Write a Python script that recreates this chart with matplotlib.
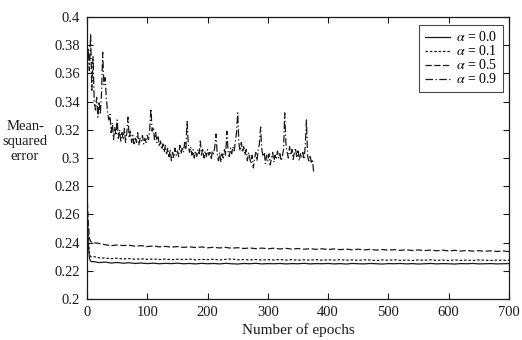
import matplotlib
matplotlib.use("Agg")
import matplotlib.pyplot as plt
import numpy as np

plt.rcParams['font.family'] = ['Liberation Serif', 'DejaVu Serif']
plt.rcParams['mathtext.fontset'] = 'stix'

# epochs shared by the three long runs
ep_long = [0, 2, 4, 6, 8] + list(range(10, 701, 10))

a00 = [0.262, 0.240, 0.229, 0.2268, 0.2264,
       0.2266, 0.2258, 0.2262, 0.2255, 0.2259, 0.2254, 0.2257, 0.2252, 0.2255, 0.2251,
       0.2254, 0.2250, 0.2253, 0.2251, 0.2254, 0.2250, 0.2252, 0.2249, 0.2253, 0.2250,
       0.2252, 0.2249, 0.2253, 0.2250, 0.2248, 0.2252, 0.2250, 0.2253, 0.2249, 0.2251,
       0.2250, 0.2252, 0.2249, 0.2251, 0.2250, 0.2253, 0.2249, 0.2251, 0.2250, 0.2252,
       0.2249, 0.2251, 0.2248, 0.2252, 0.2250, 0.2249, 0.2252, 0.2250, 0.2248, 0.2251,
       0.2250, 0.2252, 0.2249, 0.2251, 0.2248, 0.2250, 0.2252, 0.2249, 0.2251, 0.2250,
       0.2248, 0.2251, 0.2250, 0.2252, 0.2249, 0.2250, 0.2251, 0.2249, 0.2250, 0.2251]

a01 = [0.268, 0.245, 0.232, 0.2300, 0.2298,
       0.2302, 0.2292, 0.2290, 0.2286, 0.2289, 0.2284, 0.2287, 0.2282, 0.2285, 0.2281,
       0.2284, 0.2280, 0.2283, 0.2279, 0.2282, 0.2280, 0.2283, 0.2278, 0.2281, 0.2279,
       0.2282, 0.2277, 0.2281, 0.2284, 0.2278, 0.2280, 0.2277, 0.2280, 0.2276, 0.2279,
       0.2277, 0.2280, 0.2276, 0.2279, 0.2275, 0.2278, 0.2276, 0.2279, 0.2275, 0.2278,
       0.2276, 0.2279, 0.2275, 0.2277, 0.2274, 0.2278, 0.2276, 0.2273, 0.2277, 0.2275,
       0.2278, 0.2274, 0.2276, 0.2273, 0.2277, 0.2275, 0.2278, 0.2274, 0.2276, 0.2273,
       0.2277, 0.2274, 0.2276, 0.2273, 0.2277, 0.2275, 0.2273, 0.2276, 0.2274, 0.2275]

a05 = [0.275, 0.255, 0.243, 0.2408, 0.2402,
       0.2400, 0.2394, 0.2385, 0.2378, 0.2383, 0.2379, 0.2381, 0.2375, 0.2378, 0.2372,
       0.2376, 0.2370, 0.2373, 0.2368, 0.2372, 0.2366, 0.2370, 0.2365, 0.2369, 0.2363,
       0.2367, 0.2362, 0.2366, 0.2360, 0.2364, 0.2358, 0.2362, 0.2357, 0.2361, 0.2356,
       0.2360, 0.2355, 0.2359, 0.2354, 0.2358, 0.2353, 0.2357, 0.2352, 0.2356, 0.2351,
       0.2355, 0.2350, 0.2354, 0.2349, 0.2353, 0.2348, 0.2352, 0.2347, 0.2351, 0.2346,
       0.2350, 0.2345, 0.2349, 0.2344, 0.2348, 0.2343, 0.2347, 0.2342, 0.2346, 0.2341,
       0.2345, 0.2340, 0.2344, 0.2339, 0.2343, 0.2338, 0.2342, 0.2337, 0.2341, 0.2336]

# alpha = 0.9 stops near epoch 376 (every 2nd epoch)
ep_09 = list(range(0, 377, 2))
a09 = [0.352, 0.378, 0.362, 0.388, 0.348, 0.372, 0.340, 0.334, 0.343, 0.329,
       0.340, 0.331, 0.345, 0.375, 0.352, 0.357, 0.343, 0.333, 0.327, 0.331,
       0.318, 0.325, 0.313, 0.322, 0.316, 0.327, 0.314, 0.320, 0.312, 0.318,
       0.313, 0.321, 0.311, 0.318, 0.329, 0.314, 0.319, 0.311, 0.316, 0.310,
       0.315, 0.311, 0.318, 0.309, 0.314, 0.312, 0.316, 0.310, 0.314, 0.311,
       0.316, 0.313, 0.320, 0.335, 0.319, 0.322, 0.313, 0.318, 0.311, 0.315,
       0.308, 0.312, 0.306, 0.310, 0.304, 0.309, 0.303, 0.307, 0.301, 0.306,
       0.298, 0.304, 0.300, 0.307, 0.302, 0.305, 0.301, 0.309, 0.303, 0.307,
       0.304, 0.311, 0.306, 0.326, 0.310, 0.304, 0.308, 0.302, 0.306, 0.300,
       0.305, 0.301, 0.306, 0.303, 0.312, 0.302, 0.307, 0.300, 0.305, 0.301,
       0.306, 0.302, 0.304, 0.299, 0.305, 0.303, 0.308, 0.317, 0.303, 0.298,
       0.304, 0.297, 0.303, 0.300, 0.306, 0.302, 0.319, 0.305, 0.301, 0.307,
       0.303, 0.308, 0.305, 0.311, 0.318, 0.332, 0.310, 0.305, 0.311, 0.304,
       0.308, 0.302, 0.306, 0.298, 0.304, 0.300, 0.296, 0.302, 0.293, 0.300,
       0.304, 0.298, 0.306, 0.310, 0.322, 0.306, 0.301, 0.304, 0.296, 0.302,
       0.298, 0.303, 0.295, 0.300, 0.304, 0.297, 0.302, 0.299, 0.305, 0.300,
       0.303, 0.298, 0.301, 0.306, 0.332, 0.310, 0.304, 0.300, 0.308, 0.302,
       0.306, 0.299, 0.304, 0.307, 0.300, 0.305, 0.298, 0.303, 0.300, 0.304,
       0.299, 0.308, 0.327, 0.301, 0.298, 0.302, 0.297, 0.299, 0.290]

labels = [r'$\alpha$ = 0.0', r'$\alpha$ = 0.1', r'$\alpha$ = 0.5', r'$\alpha$ = 0.9']

fig = plt.figure(figsize=(5.22, 3.40), dpi=100)
ax = fig.add_axes([0.1667, 0.1206, 0.8083, 0.8294])

ink = '#1a1a1a'
ax.plot(ep_long, a00, color=ink, lw=0.9, ls='-', label=labels[0])
ax.plot(ep_long, a01, color=ink, lw=0.9, ls=(0, (2, 1.5)), label=labels[1])
ax.plot(ep_long, a05, color=ink, lw=0.9, ls=(0, (5, 2)), label=labels[2])
ax.plot(ep_09, a09, color=ink, lw=0.9, ls=(0, (6, 2, 1, 2)), label=labels[3])

ax.set_xlim(0, 700)
ax.set_ylim(0.2, 0.4)
ax.set_xticks(np.arange(0, 701, 100))
yt = np.arange(0.2, 0.4001, 0.02)
ax.set_yticks(yt)
ax.set_yticklabels(['%g' % round(v, 2) for v in yt])
ax.tick_params(direction='in', top=True, right=True, length=4, width=0.8,
               labelsize=10.5, colors=ink, pad=5)
for s in ax.spines.values():
    s.set_linewidth(0.9)
    s.set_color(ink)

ax.set_xlabel('Number of epochs', fontsize=11, color=ink, labelpad=3)
fig.text(0.048, 0.585, 'Mean-\nsquared\nerror', ha='center', va='center',
         fontsize=10.5, color=ink, linespacing=1.2)

leg = ax.legend(loc='upper right', fontsize=10, frameon=True, fancybox=False,
                handlelength=1.8, handletextpad=0.45, borderpad=0.4,
                labelspacing=0.0, borderaxespad=0,
                bbox_to_anchor=(0.986, 0.972))
leg.get_frame().set_edgecolor(ink)
leg.get_frame().set_linewidth(0.8)

fig.savefig('out.png', dpi=100)
